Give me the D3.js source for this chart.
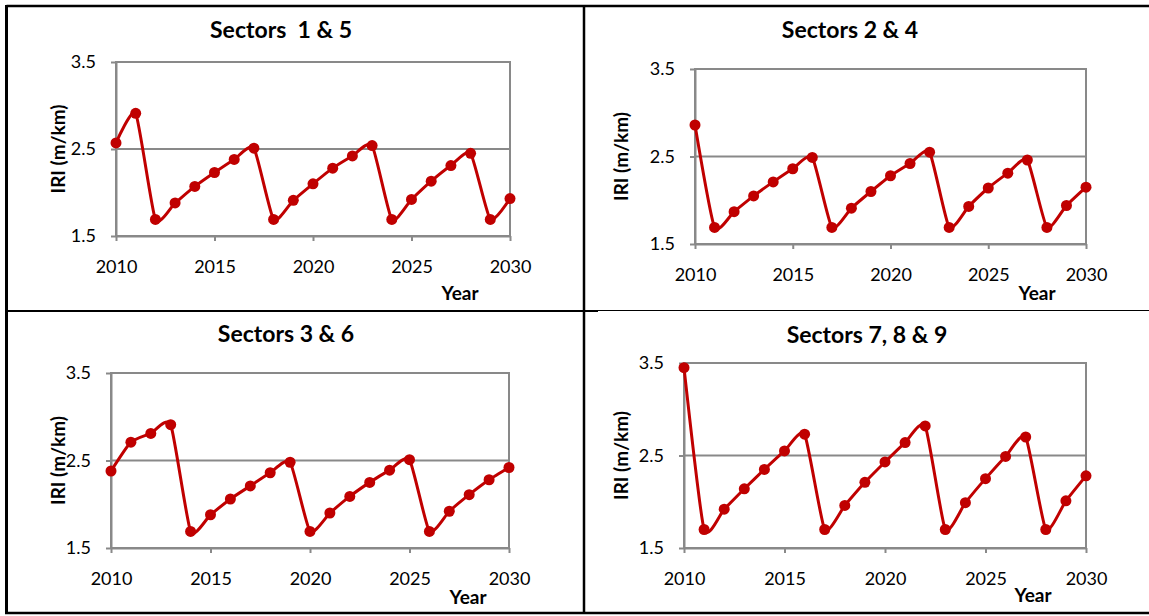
<!DOCTYPE html>
<html>
<head>
<meta charset="utf-8">
<script src="https://cdn.jsdelivr.net/npm/d3@7"></script>
<style>
  body { margin: 0; background: #fff; }
  text { font-family: Lato, "Open Sans", sans-serif; }
</style>
</head>
<body>
<script>
var width = 1149,
    height = 616;

// data
var years = d3.range(2010, 2031);
var titles = ["Sectors  1 & 5", "Sectors 2 & 4", "Sectors 3 & 6", "Sectors 7, 8 & 9"];
var yTicks = [1.5, 2.5, 3.5];
var xTicks = [2010, 2015, 2020, 2025, 2030];

var iri15 = [2.57, 2.91, 1.69, 1.88, 2.07, 2.23, 2.38, 2.51, 1.69, 1.91, 2.10,
             2.28, 2.42, 2.54, 1.69, 1.92, 2.13, 2.31, 2.45, 1.69, 1.93];
var iri24 = [2.86, 1.69, 1.87, 2.05, 2.21, 2.36, 2.49, 1.69, 1.91, 2.10, 2.28,
             2.42, 2.55, 1.69, 1.93, 2.14, 2.31, 2.46, 1.69, 1.94, 2.15];
var iri36 = [2.38, 2.71, 2.81, 2.91, 1.69, 1.88, 2.06, 2.21, 2.36, 2.48, 1.69,
             1.90, 2.09, 2.25, 2.39, 2.51, 1.69, 1.92, 2.11, 2.28, 2.42];
var iri789 = [3.45, 1.70, 1.92, 2.14, 2.35, 2.55, 2.73, 1.70, 1.96, 2.21, 2.43,
              2.64, 2.82, 1.70, 1.99, 2.25, 2.49, 2.70, 1.70, 2.01, 2.28];
var series = [iri15, iri24, iri36, iri789];

// panel layout (plot box, title and label spots)
var panels = [
  { x0: 116, x1: 510, top: 62, bot: 236, tx: 281, ty: 38, lx: 58, yx: 460, yy: 300 },
  { x0: 695, x1: 1086, top: 69, bot: 244, tx: 850, ty: 38, lx: 621, yx: 1037, yy: 300 },
  { x0: 111, x1: 509, top: 373, bot: 548, tx: 286, ty: 342, lx: 58, yx: 468, yy: 604 },
  { x0: 684, x1: 1086, top: 363, bot: 548, tx: 867, ty: 343, lx: 621, yx: 1033, yy: 602 }
];

var grey = "#898989",
    red = "#c00000";

var svg = d3.select("body").append("svg")
    .attr("width", width)
    .attr("height", height);

// table frame
var frame = svg.append("g").attr("stroke", "#000").attr("fill", "none");
frame.append("line").attr("x1", 6.5).attr("x2", width).attr("y1", 6).attr("y2", 6).attr("stroke-width", 2.5);
frame.append("line").attr("x1", 6.5).attr("x2", 6.5).attr("y1", 5).attr("y2", 614).attr("stroke-width", 3);
frame.append("line").attr("x1", 5).attr("x2", width).attr("y1", 613).attr("y2", 613).attr("stroke-width", 2.5);
frame.append("line").attr("x1", 584).attr("x2", 584).attr("y1", 5).attr("y2", 614).attr("stroke-width", 2.5);
frame.append("line").attr("x1", 5).attr("x2", 598).attr("y1", 311).attr("y2", 311).attr("stroke-width", 2.2);
frame.append("line").attr("x1", 598).attr("x2", width).attr("y1", 310.5).attr("y2", 310.5).attr("stroke-width", 1.2);

panels.forEach(function(p, i) {
  var x = d3.scaleLinear().domain([2010, 2030]).range([p.x0, p.x1]);
  var y = d3.scaleLinear().domain([1.5, 3.5]).range([p.bot, p.top]);
  var g = svg.append("g");

  g.append("rect")
      .attr("x", p.x0).attr("y", p.top)
      .attr("width", p.x1 - p.x0).attr("height", p.bot - p.top)
      .attr("fill", "none").attr("stroke", grey).attr("stroke-width", 2);

  g.append("line")
      .attr("x1", p.x0).attr("x2", p.x1)
      .attr("y1", y(2.5)).attr("y2", y(2.5))
      .attr("stroke", grey).attr("stroke-width", 2);

  var ya = g.append("g")
      .attr("transform", "translate(" + p.x0 + ",0)")
      .call(d3.axisLeft(y).tickValues(yTicks).tickFormat(d3.format(".1f"))
        .tickSize(5).tickSizeOuter(0).tickPadding(15));
  var xa = g.append("g")
      .attr("transform", "translate(0," + p.bot + ")")
      .call(d3.axisBottom(x).tickValues(xTicks).tickFormat(d3.format("d"))
        .tickSize(5).tickSizeOuter(0).tickPadding(19));
  [ya, xa].forEach(function(a) {
    a.select(".domain").attr("stroke", grey).attr("stroke-width", 2);
    a.selectAll(".tick line").attr("stroke", grey).attr("stroke-width", 2);
    a.selectAll(".tick text").attr("fill", "#000")
        .style("font-family", "Lato, 'Open Sans', sans-serif").style("font-size", "18px");
  });

  var pts = years.map(function(yr, j) { return [yr, series[i][j]]; });

  g.append("path")
      .datum(pts)
      .attr("fill", "none")
      .attr("stroke", red)
      .attr("stroke-width", 3)
      .attr("d", d3.line()
        .x(function(d) { return x(d[0]); })
        .y(function(d) { return y(d[1]); })
        .curve(d3.curveCardinal.tension(0.45)));

  g.selectAll("circle")
      .data(pts)
      .enter().append("circle")
      .attr("cx", function(d) { return x(d[0]); })
      .attr("cy", function(d) { return y(d[1]); })
      .attr("r", 5.5)
      .attr("fill", red);

  g.append("text")
      .attr("x", p.tx).attr("y", p.ty)
      .attr("text-anchor", "middle")
      .style("white-space", "pre")
      .attr("font-weight", "bold").attr("font-size", 23)
      .text(titles[i]);

  g.append("text")
      .attr("transform", "translate(" + p.lx + "," + (p.top + p.bot) / 2 + ") rotate(-90)")
      .attr("dy", "0.35em")
      .attr("text-anchor", "middle")
      .attr("font-weight", "bold").attr("font-size", 19)
      .text("IRI (m/km)");

  g.append("text")
      .attr("x", p.yx).attr("y", p.yy)
      .attr("text-anchor", "middle")
      .attr("font-weight", "bold").attr("font-size", 19)
      .text("Year");
});
</script>
</body>
</html>
